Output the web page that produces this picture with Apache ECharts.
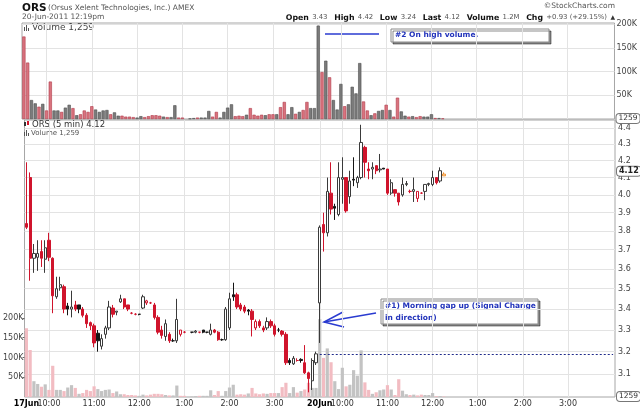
<!DOCTYPE html>
<html>
<head>
<meta charset="utf-8">
<script src="https://cdn.jsdelivr.net/npm/echarts@6/dist/echarts.min.js"></script>
<style>
html, body { margin: 0; padding: 0; background: #fff; }
#chart { width: 640px; height: 410px; }
</style>
</head>
<body>
<div id="chart"></div>
<script>
// ORS 5 min bars, slot 0 = 17Jun 9:30, slot 78 = 20Jun 9:30
var opens = [
	3.84, 4.10, 3.655, 3.66, 3.69, 3.65, 3.75, 3.655, 3.46, 3.505,
	3.51, 3.415, 3.40, 3.42, 3.42, 3.40, 3.37, 3.335, 3.32, 3.285,
	3.225, 3.28, 3.31, 3.405, 3.385, 3.435, 3.45, 3.42, 3.38, 3.375,
	3.375, 3.405, 3.43, 3.43, 3.42, 3.36, 3.30, 3.27, 3.28, 3.25,
	3.25, 3.28, 3.29, null, 3.29, 3.29, 3.29, 3.30, 3.29, 3.28,
	3.30, 3.29, 3.255, 3.255, 3.31, 3.47, 3.47, 3.42, 3.41, 3.395,
	3.39, 3.31, 3.34, 3.31, 3.31, 3.34, 3.32, 3.30, 3.295, 3.28,
	3.16, 3.145, 3.16, 3.165, 3.15, 3.105, 3.07, 3.15,
	3.43, 3.835, 3.79, 4.01, 3.935, 3.89, 4.09, 4.10, 3.99, 4.09,
	4.07, 4.10, 4.28, 4.15, 4.15, 4.17, 4.145, 4.155, 4.15, 4.01,
	4.03, 4.01, 4.00, 4.06, 4.02, 4.02, 3.98, 4.01, 4.02, 4.06,
	4.06, 4.10, 4.08, 4.11
];
var highs = [
	4.19, 4.13, 3.73, 3.75, 3.75, 3.75, 3.79, 3.66, 3.56, 3.56,
	3.52, 3.43, 3.49, 3.44, 3.42, 3.41, 3.38, 3.34, 3.33, 3.30,
	3.28, 3.32, 3.44, 3.42, 3.39, 3.47, 3.45, 3.42, 3.385, 3.38,
	3.375, 3.47, 3.445, 3.435, 3.43, 3.37, 3.32, 3.35, 3.29, 3.26,
	3.45, 3.30, 3.295, null, 3.29, 3.30, 3.29, 3.30, 3.29, 3.33,
	3.305, 3.295, 3.26, 3.41, 3.48, 3.53, 3.48, 3.43, 3.42, 3.40,
	3.40, 3.35, 3.35, 3.32, 3.36, 3.35, 3.33, 3.31, 3.30, 3.29,
	3.17, 3.18, 3.17, 3.17, 3.23, 3.11, 3.17, 3.20,
	3.83, 3.90, 4.10, 4.19, 3.95, 4.19, 4.22, 4.10, 4.14, 4.22,
	4.11, 4.42, 4.29, 4.19, 4.19, 4.17, 4.24, 4.155, 4.15, 4.09,
	4.03, 4.01, 4.10, 4.08, 4.03, 4.10, 4.02, 4.015, 4.06, 4.07,
	4.14, 4.10, 4.16, 4.13
];
var lows = [
	3.81, 3.54, 3.58, 3.59, 3.61, 3.58, 3.64, 3.38, 3.45, 3.49,
	3.38, 3.37, 3.36, 3.39, 3.38, 3.36, 3.31, 3.30, 3.22, 3.20,
	3.21, 3.26, 3.30, 3.36, 3.37, 3.43, 3.40, 3.39, 3.375, 3.37,
	3.37, 3.40, 3.42, 3.425, 3.35, 3.28, 3.26, 3.25, 3.24, 3.245,
	3.24, 3.27, 3.285, null, 3.285, 3.285, 3.285, 3.285, 3.285, 3.275,
	3.285, 3.25, 3.25, 3.25, 3.30, 3.44, 3.40, 3.39, 3.38, 3.37,
	3.27, 3.30, 3.31, 3.29, 3.30, 3.31, 3.27, 3.29, 3.27, 3.14,
	3.14, 3.14, 3.155, 3.15, 3.10, 3.02, 3.03, 3.14,
	3.24, 3.69, 3.77, 3.89, 3.86, 3.88, 3.95, 3.90, 3.95, 4.05,
	4.04, 4.09, 4.10, 4.09, 4.09, 4.12, 4.13, 4.15, 4.00, 4.00,
	3.99, 3.94, 3.99, 4.05, 4.01, 3.96, 3.96, 4.005, 3.97, 4.05,
	4.05, 4.06, 4.07, 4.11
];
var closes = [
	3.82, 3.655, 3.68, 3.68, 3.655, 3.71, 3.66, 3.465, 3.50, 3.52,
	3.40, 3.40, 3.41, 3.40, 3.40, 3.37, 3.33, 3.32, 3.24, 3.25,
	3.26, 3.31, 3.41, 3.375, 3.39, 3.45, 3.41, 3.40, 3.38, 3.375,
	3.375, 3.46, 3.44, 3.43, 3.36, 3.29, 3.275, 3.33, 3.25, 3.25,
	3.35, 3.30, 3.29, null, 3.29, 3.295, 3.29, 3.29, 3.29, 3.30,
	3.29, 3.255, 3.255, 3.40, 3.45, 3.46, 3.41, 3.40, 3.39, 3.39,
	3.35, 3.34, 3.32, 3.30, 3.34, 3.32, 3.28, 3.30, 3.28, 3.15,
	3.15, 3.17, 3.16, 3.16, 3.105, 3.08, 3.16, 3.19,
	3.82, 3.79, 4.02, 3.92, 3.925, 4.10, 4.10, 3.91, 4.08, 4.085,
	4.10, 4.31, 4.19, 4.14, 4.16, 4.14, 4.15, 4.15, 4.01, 4.07,
	4.01, 3.96, 4.06, 4.065, 4.02, 4.03, 4.02, 4.01, 4.06, 4.065,
	4.10, 4.07, 4.14, 4.12
];
// volume in thousands
var volumes = [
	174, 119, 40, 33, 26, 32, 18, 79, 18, 18,
	15, 24, 30, 23, 8, 10, 18, 15, 27, 20,
	15, 18, 19, 10, 14, 7, 7, 5, 5, 4,
	3, 6, 4, 6, 8, 8, 7, 5, 4, 4,
	29, 3, 3, null, 1, 2, 3, 3, 3, 17,
	5, 15, 3, 15, 24, 31, 6, 7, 6, 9,
	23, 9, 7, 9, 8, 10, 10, 10, 25, 36,
	10, 25, 11, 15, 19, 36, 23, 23,
	197, 99, 123, 88, 40, 20, 74, 27, 31, 68,
	54, 118, 37, 18, 8, 12, 17, 19, 30, 19,
	5, 45, 16, 7, 5, 6, 4, 6, 5, 5,
	10, 2, 2, 1.259
];
var sessionDays = ['17Jun', '20Jun'];
var barsPerDay = 78;
var tickSlots = [0, 6, 18, 30, 42, 54, 66, 78, 84, 96, 108, 120, 132, 144];
var tickLabels = ['17Jun', '10:00', '11:00', '12:00', '1:00', '2:00', '3:00', '20Jun', '10:00', '11:00', '12:00', '1:00', '2:00', '3:00'];
var priceTicks = [3.1, 3.2, 3.3, 3.4, 3.5, 3.6, 3.7, 3.8, 3.9, 4.0, 4.1, 4.2, 4.3, 4.4];
var volumeTicks = [50, 100, 150, 200];
var priorSessionClose = 3.90;
var prevClose = 3.19; // 17 Jun close
var lastPrice = 4.12;
var lastVolume = 1.259;
var statLabels = ['Open', 'High', 'Low', 'Last', 'Volume', 'Chg'];
var statValues = ['3.43', '4.42', '3.24', '4.12', '1.2M', '+0.93 (+29.15%)'];

var RED = '#d0142c', BLACK = '#151515', EDGE = '#3a3a3a', ORANGE = '#f0902c';
var FONT = 'DejaVu Sans';

// category slots: two sessions of 78 bars, plus the closing 16:00 slot
var categories = [];
sessionDays.forEach(function (day) {
	for (var k = 0; k < barsPerDay; k++) {
		var m = 9 * 60 + 30 + 5 * k;
		categories.push(day + ' ' + Math.floor(m / 60) + ':' + ('0' + m % 60).slice(-2));
	}
});
categories.push(sessionDays[1] + ' 16:00');

var candleData = [], volTop = [], volMain = [];
var lastClose = priorSessionClose;
for (var i = 0; i < categories.length; i++) {
	var c = closes[i];
	if (c == null) { candleData.push('-'); volTop.push('-'); volMain.push('-'); continue; }
	var o = opens[i];
	var isRed = c < lastClose;
	var hollow = c > o;
	var edge = isRed ? RED : (hollow ? EDGE : BLACK);
	var fill = hollow ? '#ffffff' : edge;
	if (i === closes.length - 1) { edge = ORANGE; fill = '#fff1dd'; }
	candleData.push({
		value: [Math.log(o), Math.log(c), Math.log(lows[i]), Math.log(highs[i])],
		itemStyle: { color: fill, color0: fill, borderColor: edge, borderColor0: edge, borderWidth: 1 }
	});
	volTop.push({ value: volumes[i], itemStyle: { color: isRed ? '#d9737e' : '#7b7b7b', borderColor: isRed ? '#b03a4a' : '#4d4d4d', borderWidth: 0.6 } });
	volMain.push({ value: volumes[i], itemStyle: { color: isRed ? '#f2bcc2' : '#c3c3c3' } });
	lastClose = c;
}

function isGridSlot(index) { return index > 0 && tickSlots.indexOf(index) >= 0; }
function kLabel(v) { return v + 'K'; }

var gridLine = { show: true, interval: isGridSlot, alignWithLabel: true, lineStyle: { color: '#e3e3e3', width: 1 } };
var hiddenTick = { show: false, interval: isGridSlot, alignWithLabel: true };
var boxLabel = {
	show: true, position: 'end', distance: 2, fontSize: 7.5, color: '#333', fontFamily: FONT, opacity: 1,
	backgroundColor: '#fff', borderColor: '#777', borderWidth: 1, borderRadius: 3, padding: [1, 2, 0, 2]
};
var noLine = { color: 'rgba(0,0,0,0)', width: 0.1, opacity: 1 };
function lastVolMark() {
	return {
		symbol: 'none', silent: true, animation: false,
		lineStyle: noLine,
		label: Object.assign({}, boxLabel, { formatter: String(Math.round(lastVolume * 1000)) }),
		data: [{ yAxis: lastVolume }]
	};
}

var statText = statLabels.map(function (l, k) {
	return '{l|' + l + '} {v|' + statValues[k] + '}';
}).join('  ') + ' {a|▲}';

function volIcon(x, y) {
	return {
		type: 'group', x: x, y: y, silent: true,
		children: [
			{ type: 'rect', shape: { x: 0, y: 2, width: 1, height: 4 }, style: { fill: '#555' } },
			{ type: 'rect', shape: { x: 2, y: 0, width: 1, height: 6 }, style: { fill: '#555' } },
			{ type: 'rect', shape: { x: 4, y: 3, width: 1, height: 3 }, style: { fill: '#555' } }
		]
	};
}

var chart = echarts.init(document.getElementById('chart'));
chart.setOption({
	animation: false,
	textStyle: { fontFamily: FONT },
	grid: [
		{ left: 22, right: 25, top: 23, height: 96, show: true, borderColor: '#a6a6a6', borderWidth: 1 },
		{ left: 22, right: 25, top: 120, height: 277, show: true, borderColor: '#a6a6a6', borderWidth: 1 }
	],
	xAxis: [
		{
			type: 'category', gridIndex: 0, data: categories, boundaryGap: true,
			axisLine: { show: false }, axisTick: hiddenTick, axisLabel: { show: false },
			splitLine: gridLine
		},
		{
			type: 'category', gridIndex: 1, data: categories, boundaryGap: true,
			axisLine: { show: false }, axisTick: hiddenTick,
			axisLabel: {
				show: true, interval: 0, hideOverlap: false,
				margin: 3, fontSize: 8, color: '#333',
				formatter: function (value, index) {
					var k = tickSlots.indexOf(index);
					if (k < 0) return '';
					var t = tickLabels[k];
					return sessionDays.indexOf(t) >= 0 ? '{d|' + t + '}' : t;
				},
				rich: { d: { fontWeight: 'bold', color: '#000', fontSize: 8, fontFamily: FONT } }
			},
			splitLine: gridLine
		}
	],
	yAxis: [
		{
			type: 'value', gridIndex: 0, position: 'right', min: 0, max: 202.5,
			axisLine: { show: false },
			axisTick: { show: false, customValues: volumeTicks },
			axisLabel: { customValues: volumeTicks, formatter: kLabel, margin: 2, fontSize: 8, color: '#444' },
			splitLine: { lineStyle: { color: '#e3e3e3' } }
		},
		{
			type: 'value', gridIndex: 1, position: 'right', min: Math.log(3.0), max: Math.log(4.45),
			axisLine: { show: false },
			axisTick: { show: false, customValues: priceTicks.map(Math.log) },
			axisLabel: {
				customValues: priceTicks.map(Math.log), margin: 3, fontSize: 8, color: '#444',
				formatter: function (v) { return Math.exp(v).toFixed(1); }
			},
			splitLine: { lineStyle: { color: '#e3e3e3' } }
		},
		{
			type: 'value', gridIndex: 1, position: 'left', min: 0, max: 701,
			axisLine: { show: false },
			axisTick: { show: true, customValues: volumeTicks, length: 2, lineStyle: { color: '#666' } },
			axisLabel: { customValues: volumeTicks, formatter: kLabel, margin: 1, fontSize: 8, color: '#444' },
			splitLine: { show: false }
		}
	],
	series: [
		{
			name: 'Volume', type: 'bar', xAxisIndex: 0, yAxisIndex: 0,
			data: volTop, barWidth: 3.2, markLine: lastVolMark()
		},
		{
			name: 'Volume overlay', type: 'bar', xAxisIndex: 1, yAxisIndex: 2, z: 1,
			data: volMain, barWidth: 3.2, markLine: lastVolMark()
		},
		{
			name: 'ORS', type: 'candlestick', xAxisIndex: 1, yAxisIndex: 1, z: 3,
			data: candleData, barWidth: 2.8,
			markLine: {
				symbol: 'none', silent: true, animation: false,
				data: [
					[
						{ coord: [barsPerDay, Math.log(prevClose)], lineStyle: { color: '#1f2a8a', type: [2, 2], width: 1 }, label: { show: false } },
						{ coord: [categories.length - 1, Math.log(prevClose)] }
					],
					{
						yAxis: Math.log(lastPrice), lineStyle: noLine,
						label: Object.assign({}, boxLabel, { formatter: lastPrice.toFixed(2), fontSize: 8, fontWeight: 'bold', color: '#222' })
					}
				]
			}
		}
	],
	graphic: [
		{ type: 'text', silent: true, style: { text: 'ORS', x: 22, y: 8, textVerticalAlign: 'middle', font: 'bold 10.5px "DejaVu Sans"', fill: '#111' } },
		{ type: 'text', silent: true, style: { text: '(Orsus Xelent Technologies, Inc.) AMEX', x: 48, y: 8.5, textVerticalAlign: 'middle', font: '7.5px "DejaVu Sans"', fill: '#555' } },
		{ type: 'text', silent: true, style: { text: '20-Jun-2011 12:19pm', x: 22, y: 17.5, textVerticalAlign: 'middle', font: '7.5px "DejaVu Sans"', fill: '#555' } },
		{ type: 'text', silent: true, style: { text: '©StockCharts.com', x: 615, y: 6.5, textAlign: 'right', textVerticalAlign: 'middle', font: '7.5px "DejaVu Sans"', fill: '#555' } },
		{
			type: 'text', silent: true,
			style: {
				text: statText, x: 615, y: 17.5, textAlign: 'right', textVerticalAlign: 'middle',
				rich: {
					l: { fontWeight: 'bold', fontSize: 7.8, fontFamily: FONT, fill: '#111' },
					v: { fontSize: 6.9, fontFamily: FONT, fill: '#555' },
					a: { fontSize: 6, fontFamily: FONT, fill: '#333' }
				}
			}
		},
		volIcon(24, 25),
		{ type: 'text', silent: true, style: { text: 'Volume 1,259', x: 32, y: 28, textVerticalAlign: 'middle', font: '9px "DejaVu Sans"', fill: '#444' } },
		{
			type: 'group', x: 24, y: 121, silent: true,
			children: [
				{ type: 'rect', shape: { x: 0, y: 1, width: 2, height: 4 }, style: { fill: '#333' } },
				{ type: 'rect', shape: { x: 3, y: 0, width: 2, height: 4 }, style: { fill: RED } }
			]
		},
		{ type: 'text', silent: true, style: { text: 'ORS (5 min) 4.12', x: 32, y: 125, textVerticalAlign: 'middle', font: '8.5px "DejaVu Sans"', fill: '#333' } },
		volIcon(24, 130),
		{ type: 'text', silent: true, style: { text: 'Volume 1,259', x: 31, y: 133.5, textVerticalAlign: 'middle', font: '7px "DejaVu Sans"', fill: '#555' } },

		// annotation #2
		{ type: 'polyline', silent: true, shape: { points: [[325, 34], [379, 34]] }, style: { stroke: '#2a3bd0', lineWidth: 1.5 } },
		{
			type: 'rect', silent: true, shape: { x: 391, y: 29, width: 158, height: 13 },
			style: { fill: '#fff', stroke: '#8a8a8a', lineWidth: 1, shadowColor: 'rgba(0,0,0,0.45)', shadowOffsetX: 2, shadowOffsetY: 2, shadowBlur: 0 }
		},
		{ type: 'text', silent: true, style: { text: '#2 On high volume.', x: 395, y: 35.5, textVerticalAlign: 'middle', font: 'bold 7.5px "DejaVu Sans"', fill: '#2233bb' } },

		// annotation #1
		{ type: 'polyline', silent: true, shape: { points: [[376, 313], [324, 322]] }, style: { stroke: '#2a3bd0', lineWidth: 1.5 } },
		{ type: 'polyline', silent: true, shape: { points: [[343, 312], [324, 322], [344, 327]] }, style: { stroke: '#2a3bd0', lineWidth: 1.5, fill: null } },
		{
			type: 'rect', silent: true, shape: { x: 381, y: 299, width: 157, height: 25 },
			style: { fill: '#fff', stroke: '#8a8a8a', lineWidth: 1, shadowColor: 'rgba(0,0,0,0.45)', shadowOffsetX: 2, shadowOffsetY: 2, shadowBlur: 0 }
		},
		{
			type: 'text', silent: true,
			style: { text: '#1) Morning gap up (Signal Change\nin direction)', x: 385, y: 300.5, textVerticalAlign: 'top', lineHeight: 12, font: 'bold 7.5px "DejaVu Sans"', fill: '#2233bb' }
		}
	]
});
</script>
</body>
</html>
